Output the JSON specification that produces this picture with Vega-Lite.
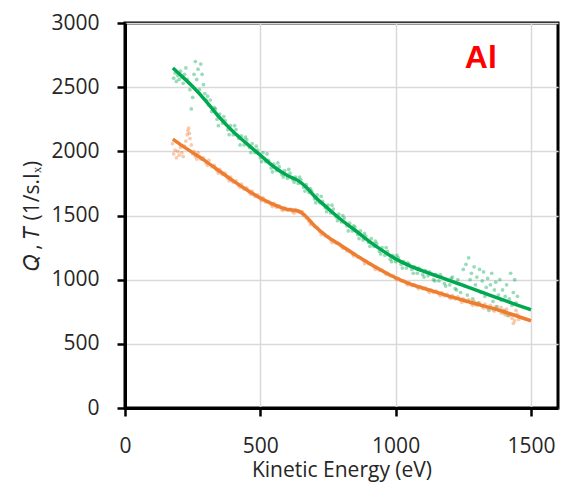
{
  "$schema": "https://vega.github.io/schema/vega-lite/v6.json",
  "width": 433,
  "height": 385,
  "autosize": {"type": "none"},
  "padding": {"left": 125, "top": 23, "right": 4, "bottom": 77},
  "view": {"stroke": "#000000", "strokeWidth": 3},
  "config": {
    "font": "Open Sans",
    "axis": {
      "labelFont": "Open Sans", "labelFontSize": 21, "labelColor": "#262626", "labelFlush": false,
      "titleFont": "Open Sans", "titleFontSize": 21, "titleFontWeight": "normal", "titleColor": "#262626",
      "gridColor": "#d9d9d9", "gridWidth": 1.5
    }
  },
  "datasets": {
    "pts": [
      {"E":180,"v":2570,"s":"Q"},{"E":185,"v":2610,"s":"Q"},{"E":190,"v":2545,"s":"Q"},{"E":195,"v":2590,"s":"Q"},{"E":200,"v":2560,"s":"Q"},{"E":205,"v":2625,"s":"Q"},{"E":210,"v":2580,"s":"Q"},{"E":215,"v":2530,"s":"Q"},{"E":220,"v":2600,"s":"Q"},{"E":225,"v":2650,"s":"Q"},{"E":230,"v":2560,"s":"Q"},{"E":240,"v":2480,"s":"Q"},{"E":245,"v":2330,"s":"Q"},{"E":250,"v":2420,"s":"Q"},{"E":255,"v":2600,"s":"Q"},{"E":260,"v":2700,"s":"Q"},{"E":265,"v":2560,"s":"Q"},{"E":270,"v":2640,"s":"Q"},{"E":275,"v":2480,"s":"Q"},{"E":280,"v":2680,"s":"Q"},{"E":285,"v":2600,"s":"Q"},{"E":290,"v":2520,"s":"Q"},{"E":295,"v":2450,"s":"Q"},{"E":300,"v":2400,"s":"Q"},{"E":305,"v":2430,"s":"Q"},{"E":310,"v":2360,"s":"Q"},{"E":315,"v":2400,"s":"Q"},{"E":320,"v":2310,"s":"Q"},{"E":330,"v":2340,"s":"Q"},{"E":340,"v":2250,"s":"Q"},{"E":350,"v":2290,"s":"Q"},{"E":360,"v":2220,"s":"Q"},{"E":370,"v":2240,"s":"Q"},{"E":380,"v":2170,"s":"Q"},{"E":390,"v":2200,"s":"Q"},{"E":400,"v":2130,"s":"Q"},{"E":410,"v":2170,"s":"Q"},{"E":420,"v":2100,"s":"Q"},{"E":430,"v":2120,"s":"Q"},{"E":440,"v":2050,"s":"Q"},{"E":450,"v":2090,"s":"Q"},{"E":460,"v":2030,"s":"Q"},{"E":470,"v":2060,"s":"Q"},{"E":480,"v":1990,"s":"Q"},{"E":490,"v":2010,"s":"Q"},{"E":500,"v":1950,"s":"Q"},{"E":510,"v":1990,"s":"Q"},{"E":520,"v":1920,"s":"Q"},{"E":530,"v":1930,"s":"Q"},{"E":540,"v":1870,"s":"Q"},{"E":550,"v":1900,"s":"Q"},{"E":560,"v":1850,"s":"Q"},{"E":570,"v":1880,"s":"Q"},{"E":580,"v":1820,"s":"Q"},{"E":590,"v":1850,"s":"Q"},{"E":600,"v":1790,"s":"Q"},{"E":610,"v":1830,"s":"Q"},{"E":620,"v":1780,"s":"Q"},{"E":630,"v":1800,"s":"Q"},{"E":640,"v":1750,"s":"Q"},{"E":650,"v":1780,"s":"Q"},{"E":660,"v":1720,"s":"Q"},{"E":670,"v":1740,"s":"Q"},{"E":680,"v":1680,"s":"Q"},{"E":690,"v":1690,"s":"Q"},{"E":700,"v":1630,"s":"Q"},{"E":710,"v":1660,"s":"Q"},{"E":720,"v":1600,"s":"Q"},{"E":730,"v":1610,"s":"Q"},{"E":740,"v":1560,"s":"Q"},{"E":750,"v":1580,"s":"Q"},{"E":760,"v":1520,"s":"Q"},{"E":770,"v":1550,"s":"Q"},{"E":780,"v":1490,"s":"Q"},{"E":790,"v":1510,"s":"Q"},{"E":800,"v":1450,"s":"Q"},{"E":810,"v":1480,"s":"Q"},{"E":820,"v":1420,"s":"Q"},{"E":830,"v":1440,"s":"Q"},{"E":840,"v":1380,"s":"Q"},{"E":850,"v":1410,"s":"Q"},{"E":860,"v":1350,"s":"Q"},{"E":870,"v":1380,"s":"Q"},{"E":880,"v":1310,"s":"Q"},{"E":890,"v":1340,"s":"Q"},{"E":900,"v":1290,"s":"Q"},{"E":910,"v":1320,"s":"Q"},{"E":920,"v":1260,"s":"Q"},{"E":930,"v":1280,"s":"Q"},{"E":940,"v":1220,"s":"Q"},{"E":950,"v":1250,"s":"Q"},{"E":960,"v":1190,"s":"Q"},{"E":970,"v":1220,"s":"Q"},{"E":980,"v":1160,"s":"Q"},{"E":990,"v":1190,"s":"Q"},{"E":1000,"v":1140,"s":"Q"},{"E":1010,"v":1170,"s":"Q"},{"E":1020,"v":1120,"s":"Q"},{"E":1030,"v":1140,"s":"Q"},{"E":1040,"v":1090,"s":"Q"},{"E":1050,"v":1120,"s":"Q"},{"E":1060,"v":1080,"s":"Q"},{"E":1070,"v":1100,"s":"Q"},{"E":1080,"v":1050,"s":"Q"},{"E":1090,"v":1080,"s":"Q"},{"E":1100,"v":1040,"s":"Q"},{"E":1110,"v":1070,"s":"Q"},{"E":1120,"v":1030,"s":"Q"},{"E":1130,"v":1050,"s":"Q"},{"E":1140,"v":1000,"s":"Q"},{"E":1150,"v":1040,"s":"Q"},{"E":1160,"v":990,"s":"Q"},{"E":1170,"v":1020,"s":"Q"},{"E":1180,"v":970,"s":"Q"},{"E":1190,"v":1000,"s":"Q"},{"E":1200,"v":960,"s":"Q"},{"E":1210,"v":1020,"s":"Q"},{"E":1220,"v":930,"s":"Q"},{"E":1230,"v":1000,"s":"Q"},{"E":1240,"v":900,"s":"Q"},{"E":1250,"v":1080,"s":"Q"},{"E":1255,"v":950,"s":"Q"},{"E":1260,"v":1120,"s":"Q"},{"E":1265,"v":880,"s":"Q"},{"E":1270,"v":1170,"s":"Q"},{"E":1275,"v":1000,"s":"Q"},{"E":1280,"v":1050,"s":"Q"},{"E":1285,"v":850,"s":"Q"},{"E":1290,"v":1100,"s":"Q"},{"E":1295,"v":960,"s":"Q"},{"E":1300,"v":1020,"s":"Q"},{"E":1305,"v":820,"s":"Q"},{"E":1310,"v":1080,"s":"Q"},{"E":1315,"v":900,"s":"Q"},{"E":1320,"v":990,"s":"Q"},{"E":1325,"v":1060,"s":"Q"},{"E":1330,"v":870,"s":"Q"},{"E":1335,"v":940,"s":"Q"},{"E":1340,"v":1010,"s":"Q"},{"E":1345,"v":760,"s":"Q"},{"E":1350,"v":960,"s":"Q"},{"E":1355,"v":1050,"s":"Q"},{"E":1360,"v":830,"s":"Q"},{"E":1365,"v":920,"s":"Q"},{"E":1370,"v":980,"s":"Q"},{"E":1375,"v":790,"s":"Q"},{"E":1380,"v":880,"s":"Q"},{"E":1385,"v":1000,"s":"Q"},{"E":1390,"v":840,"s":"Q"},{"E":1395,"v":920,"s":"Q"},{"E":1400,"v":760,"s":"Q"},{"E":1405,"v":870,"s":"Q"},{"E":1410,"v":960,"s":"Q"},{"E":1415,"v":720,"s":"Q"},{"E":1420,"v":850,"s":"Q"},{"E":1425,"v":1050,"s":"Q"},{"E":1430,"v":800,"s":"Q"},{"E":1435,"v":900,"s":"Q"},{"E":1440,"v":1000,"s":"Q"},{"E":1445,"v":820,"s":"Q"},{"E":1450,"v":870,"s":"Q"},
      {"E":335,"v":2330,"s":"Q"},{"E":345,"v":2200,"s":"Q"},{"E":365,"v":2270,"s":"Q"},{"E":385,"v":2130,"s":"Q"},{"E":405,"v":2200,"s":"Q"},{"E":425,"v":2050,"s":"Q"},{"E":445,"v":2110,"s":"Q"},{"E":465,"v":1990,"s":"Q"},{"E":485,"v":2040,"s":"Q"},{"E":505,"v":1920,"s":"Q"},{"E":525,"v":1980,"s":"Q"},{"E":545,"v":1840,"s":"Q"},{"E":565,"v":1910,"s":"Q"},{"E":585,"v":1800,"s":"Q"},{"E":605,"v":1860,"s":"Q"},{"E":625,"v":1760,"s":"Q"},{"E":645,"v":1800,"s":"Q"},{"E":665,"v":1690,"s":"Q"},{"E":685,"v":1710,"s":"Q"},{"E":705,"v":1600,"s":"Q"},{"E":725,"v":1650,"s":"Q"},{"E":745,"v":1530,"s":"Q"},{"E":765,"v":1580,"s":"Q"},{"E":785,"v":1460,"s":"Q"},{"E":805,"v":1500,"s":"Q"},{"E":825,"v":1380,"s":"Q"},{"E":845,"v":1420,"s":"Q"},{"E":865,"v":1320,"s":"Q"},{"E":885,"v":1360,"s":"Q"},{"E":905,"v":1260,"s":"Q"},{"E":925,"v":1300,"s":"Q"},{"E":945,"v":1200,"s":"Q"},{"E":965,"v":1250,"s":"Q"},{"E":985,"v":1140,"s":"Q"},{"E":1005,"v":1190,"s":"Q"},{"E":1025,"v":1090,"s":"Q"},{"E":1045,"v":1130,"s":"Q"},{"E":1065,"v":1050,"s":"Q"},{"E":1085,"v":1090,"s":"Q"},{"E":1105,"v":1020,"s":"Q"},{"E":1125,"v":1060,"s":"Q"},{"E":1145,"v":990,"s":"Q"},{"E":1165,"v":1040,"s":"Q"},{"E":1185,"v":950,"s":"Q"},{"E":1205,"v":1010,"s":"Q"},{"E":1225,"v":920,"s":"Q"},
      {"E":180,"v":1980,"s":"T"},{"E":185,"v":2010,"s":"T"},{"E":190,"v":1950,"s":"T"},{"E":195,"v":2000,"s":"T"},{"E":200,"v":1970,"s":"T"},{"E":205,"v":2030,"s":"T"},{"E":210,"v":1990,"s":"T"},{"E":215,"v":1960,"s":"T"},{"E":220,"v":2040,"s":"T"},{"E":225,"v":2080,"s":"T"},{"E":230,"v":2130,"s":"T"},{"E":235,"v":2180,"s":"T"},{"E":240,"v":2100,"s":"T"},{"E":245,"v":2050,"s":"T"},{"E":250,"v":1980,"s":"T"},{"E":255,"v":2000,"s":"T"},{"E":260,"v":1960,"s":"T"},{"E":270,"v":1990,"s":"T"},{"E":280,"v":1940,"s":"T"},{"E":290,"v":1950,"s":"T"},{"E":300,"v":1910,"s":"T"},{"E":310,"v":1930,"s":"T"},{"E":320,"v":1880,"s":"T"},{"E":330,"v":1890,"s":"T"},{"E":340,"v":1850,"s":"T"},{"E":350,"v":1860,"s":"T"},{"E":360,"v":1820,"s":"T"},{"E":370,"v":1830,"s":"T"},{"E":380,"v":1790,"s":"T"},{"E":390,"v":1800,"s":"T"},{"E":400,"v":1760,"s":"T"},{"E":410,"v":1770,"s":"T"},{"E":420,"v":1735,"s":"T"},{"E":430,"v":1745,"s":"T"},{"E":440,"v":1705,"s":"T"},{"E":450,"v":1715,"s":"T"},{"E":460,"v":1680,"s":"T"},{"E":470,"v":1690,"s":"T"},{"E":480,"v":1650,"s":"T"},{"E":490,"v":1660,"s":"T"},{"E":500,"v":1630,"s":"T"},{"E":510,"v":1640,"s":"T"},{"E":520,"v":1605,"s":"T"},{"E":530,"v":1610,"s":"T"},{"E":540,"v":1585,"s":"T"},{"E":550,"v":1595,"s":"T"},{"E":560,"v":1565,"s":"T"},{"E":570,"v":1575,"s":"T"},{"E":580,"v":1545,"s":"T"},{"E":590,"v":1560,"s":"T"},{"E":600,"v":1540,"s":"T"},{"E":610,"v":1550,"s":"T"},{"E":620,"v":1530,"s":"T"},{"E":630,"v":1545,"s":"T"},{"E":640,"v":1530,"s":"T"},{"E":650,"v":1525,"s":"T"},{"E":660,"v":1500,"s":"T"},{"E":670,"v":1480,"s":"T"},{"E":680,"v":1455,"s":"T"},{"E":690,"v":1440,"s":"T"},{"E":700,"v":1415,"s":"T"},{"E":710,"v":1405,"s":"T"},{"E":720,"v":1375,"s":"T"},{"E":730,"v":1365,"s":"T"},{"E":740,"v":1340,"s":"T"},{"E":750,"v":1335,"s":"T"},{"E":760,"v":1310,"s":"T"},{"E":770,"v":1305,"s":"T"},{"E":780,"v":1285,"s":"T"},{"E":790,"v":1280,"s":"T"},{"E":800,"v":1260,"s":"T"},{"E":810,"v":1250,"s":"T"},{"E":820,"v":1225,"s":"T"},{"E":830,"v":1220,"s":"T"},{"E":840,"v":1200,"s":"T"},{"E":850,"v":1200,"s":"T"},{"E":860,"v":1175,"s":"T"},{"E":870,"v":1170,"s":"T"},{"E":880,"v":1150,"s":"T"},{"E":890,"v":1145,"s":"T"},{"E":900,"v":1125,"s":"T"},{"E":910,"v":1120,"s":"T"},{"E":920,"v":1100,"s":"T"},{"E":930,"v":1095,"s":"T"},{"E":940,"v":1075,"s":"T"},{"E":950,"v":1075,"s":"T"},{"E":960,"v":1055,"s":"T"},{"E":970,"v":1050,"s":"T"},{"E":980,"v":1030,"s":"T"},{"E":990,"v":1030,"s":"T"},{"E":1000,"v":1010,"s":"T"},{"E":1010,"v":1010,"s":"T"},{"E":1020,"v":990,"s":"T"},{"E":1030,"v":990,"s":"T"},{"E":1040,"v":970,"s":"T"},{"E":1050,"v":975,"s":"T"},{"E":1060,"v":955,"s":"T"},{"E":1070,"v":960,"s":"T"},{"E":1080,"v":940,"s":"T"},{"E":1090,"v":945,"s":"T"},{"E":1100,"v":930,"s":"T"},{"E":1110,"v":935,"s":"T"},{"E":1120,"v":915,"s":"T"},{"E":1130,"v":920,"s":"T"},{"E":1140,"v":900,"s":"T"},{"E":1150,"v":910,"s":"T"},{"E":1160,"v":890,"s":"T"},{"E":1170,"v":900,"s":"T"},{"E":1180,"v":875,"s":"T"},{"E":1190,"v":885,"s":"T"},{"E":1200,"v":860,"s":"T"},{"E":1210,"v":875,"s":"T"},{"E":1220,"v":850,"s":"T"},{"E":1230,"v":865,"s":"T"},{"E":1240,"v":840,"s":"T"},{"E":1250,"v":850,"s":"T"},{"E":1260,"v":830,"s":"T"},{"E":1270,"v":845,"s":"T"},{"E":1280,"v":815,"s":"T"},{"E":1290,"v":830,"s":"T"},{"E":1300,"v":800,"s":"T"},{"E":1310,"v":820,"s":"T"},{"E":1320,"v":790,"s":"T"},{"E":1330,"v":810,"s":"T"},{"E":1340,"v":775,"s":"T"},{"E":1350,"v":800,"s":"T"},{"E":1360,"v":765,"s":"T"},{"E":1370,"v":790,"s":"T"},{"E":1380,"v":760,"s":"T"},{"E":1390,"v":785,"s":"T"},{"E":1400,"v":740,"s":"T"},{"E":1410,"v":770,"s":"T"},{"E":1420,"v":720,"s":"T"},{"E":1430,"v":700,"s":"T"},{"E":1440,"v":680,"s":"T"},{"E":1445,"v":760,"s":"T"},{"E":1450,"v":730,"s":"T"},{"E":1455,"v":690,"s":"T"},
      {"E":175,"v":2060,"s":"T"},{"E":232,"v":2160,"s":"T"},{"E":238,"v":2140,"s":"T"},{"E":265,"v":1940,"s":"T"},{"E":305,"v":1890,"s":"T"},{"E":345,"v":1830,"s":"T"},{"E":385,"v":1770,"s":"T"},{"E":425,"v":1720,"s":"T"},{"E":465,"v":1665,"s":"T"},{"E":505,"v":1615,"s":"T"},{"E":545,"v":1570,"s":"T"},{"E":585,"v":1540,"s":"T"},{"E":625,"v":1520,"s":"T"},{"E":655,"v":1530,"s":"T"},{"E":685,"v":1430,"s":"T"},{"E":725,"v":1350,"s":"T"},{"E":765,"v":1290,"s":"T"},{"E":805,"v":1245,"s":"T"},{"E":845,"v":1185,"s":"T"},{"E":885,"v":1125,"s":"T"},{"E":925,"v":1080,"s":"T"},{"E":965,"v":1040,"s":"T"},{"E":1005,"v":1000,"s":"T"},{"E":1045,"v":960,"s":"T"},{"E":1085,"v":930,"s":"T"},{"E":1125,"v":900,"s":"T"},{"E":1165,"v":875,"s":"T"},{"E":1205,"v":855,"s":"T"},{"E":1245,"v":825,"s":"T"},{"E":1285,"v":800,"s":"T"},{"E":1325,"v":780,"s":"T"},{"E":1365,"v":755,"s":"T"},{"E":1405,"v":725,"s":"T"},{"E":1435,"v":660,"s":"T"},{"E":1390,"v":740,"s":"T"},{"E":1370,"v":770,"s":"T"}
    ],
    "fit": [
      {"E":177,"v":2650,"s":"Q"},{"E":200,"v":2605,"s":"Q"},{"E":250,"v":2505,"s":"Q"},{"E":300,"v":2390,"s":"Q"},{"E":350,"v":2262,"s":"Q"},{"E":400,"v":2152,"s":"Q"},{"E":450,"v":2060,"s":"Q"},{"E":500,"v":1970,"s":"Q"},{"E":550,"v":1880,"s":"Q"},{"E":600,"v":1812,"s":"Q"},{"E":640,"v":1772,"s":"Q"},{"E":670,"v":1720,"s":"Q"},{"E":700,"v":1650,"s":"Q"},{"E":750,"v":1555,"s":"Q"},{"E":800,"v":1465,"s":"Q"},{"E":850,"v":1385,"s":"Q"},{"E":900,"v":1302,"s":"Q"},{"E":950,"v":1228,"s":"Q"},{"E":1000,"v":1162,"s":"Q"},{"E":1050,"v":1110,"s":"Q"},{"E":1100,"v":1068,"s":"Q"},{"E":1150,"v":1030,"s":"Q"},{"E":1200,"v":993,"s":"Q"},{"E":1250,"v":955,"s":"Q"},{"E":1300,"v":917,"s":"Q"},{"E":1350,"v":878,"s":"Q"},{"E":1400,"v":840,"s":"Q"},{"E":1450,"v":802,"s":"Q"},{"E":1500,"v":765,"s":"Q"},
      {"E":177,"v":2095,"s":"T"},{"E":200,"v":2060,"s":"T"},{"E":250,"v":1990,"s":"T"},{"E":300,"v":1920,"s":"T"},{"E":350,"v":1845,"s":"T"},{"E":400,"v":1770,"s":"T"},{"E":450,"v":1700,"s":"T"},{"E":500,"v":1636,"s":"T"},{"E":550,"v":1585,"s":"T"},{"E":600,"v":1548,"s":"T"},{"E":640,"v":1535,"s":"T"},{"E":665,"v":1500,"s":"T"},{"E":700,"v":1420,"s":"T"},{"E":750,"v":1332,"s":"T"},{"E":800,"v":1265,"s":"T"},{"E":850,"v":1195,"s":"T"},{"E":900,"v":1130,"s":"T"},{"E":950,"v":1070,"s":"T"},{"E":1000,"v":1015,"s":"T"},{"E":1050,"v":970,"s":"T"},{"E":1100,"v":935,"s":"T"},{"E":1150,"v":903,"s":"T"},{"E":1200,"v":870,"s":"T"},{"E":1250,"v":840,"s":"T"},{"E":1300,"v":810,"s":"T"},{"E":1350,"v":782,"s":"T"},{"E":1400,"v":750,"s":"T"},{"E":1450,"v":715,"s":"T"},{"E":1500,"v":680,"s":"T"}
    ],
    "lab": [{"E":1315,"v":2649,"t":"Al"}]
  },
  "encoding": {
    "x": {"field": "E", "type": "quantitative", "scale": {"domain": [0, 1600], "nice": false},
      "axis": {"values": [0, 500, 1000, 1500], "format": "d", "title": "Kinetic Energy (eV)", "labelPadding": 19, "titlePadding": 3,
        "domainColor": "#000000", "domainWidth": 3, "tickColor": "#000000", "tickWidth": 2.5, "tickSize": 8}},
    "y": {"field": "v", "type": "quantitative", "scale": {"domain": [0, 3000], "nice": false},
      "axis": {"values": [0, 500, 1000, 1500, 2000, 2500, 3000], "format": "d", "title": "𝑄 , 𝑇 (1/s.Iₓ)", "labelPadding": 18, "titlePadding": 8,
        "domainColor": "#000000", "domainWidth": 3, "tickColor": "#000000", "tickWidth": 2.5, "tickSize": 8}}
  },
  "layer": [
    {
      "data": {"name": "pts"},
      "mark": {"type": "point", "filled": true, "size": 14, "opacity": 0.4},
      "encoding": {
        "color": {"field": "s", "type": "nominal", "scale": {"domain": ["Q", "T"], "range": ["#00A84F", "#ED7D31"]}, "legend": null}
      }
    },
    {
      "data": {"name": "fit"},
      "mark": {"type": "line", "strokeWidth": 3.5, "interpolate": "monotone"},
      "encoding": {
        "color": {"field": "s", "type": "nominal", "scale": {"domain": ["Q", "T"], "range": ["#00A84F", "#ED7D31"]}, "legend": null},
        "detail": {"field": "s"}
      }
    },
    {
      "data": {"name": "lab"},
      "mark": {"type": "text", "font": "Liberation Sans", "fontWeight": "bold", "fontSize": 32, "color": "#FF0000", "align": "center", "baseline": "alphabetic"},
      "encoding": {"text": {"field": "t"}}
    }
  ]
}
